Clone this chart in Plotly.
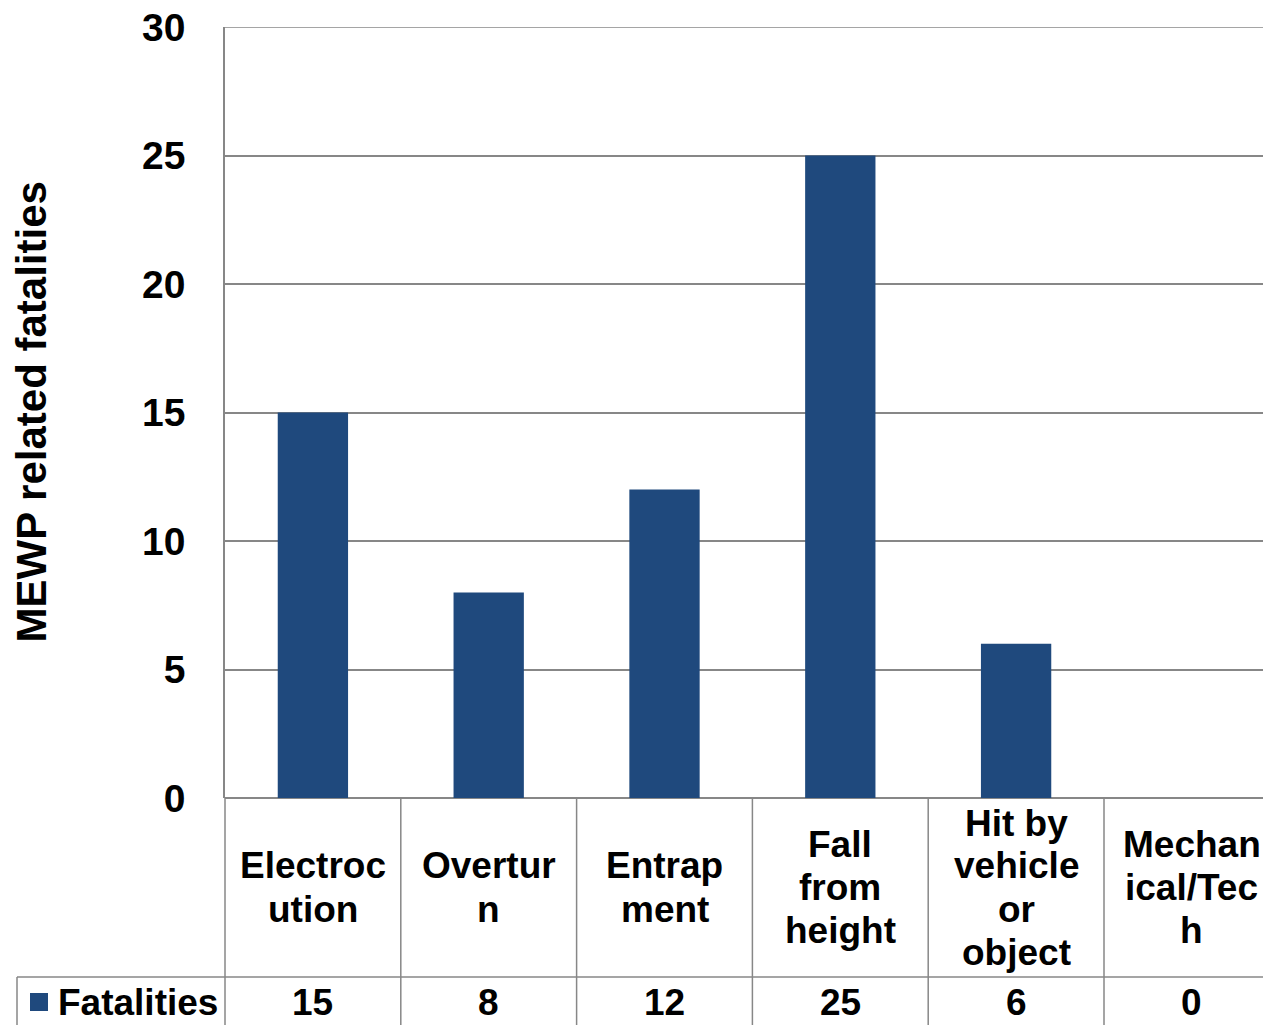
import plotly.graph_objects as go

# ---- data ----
categories = ["Electrocution", "Overturn", "Entrapment", "Fall from height",
              "Hit by vehicle or object", "Mechanical/Tech"]
label_lines = [["Electroc", "ution"], ["Overtur", "n"], ["Entrap", "ment"],
               ["Fall", "from", "height"], ["Hit by", "vehicle", "or", "object"],
               ["Mechan", "ical/Tec", "h"]]
values = [15, 8, 12, 25, 6, 0]
series_name = "Fatalities"
y_ticks = [0, 5, 10, 15, 20, 25, 30]
y_title = "MEWP related fatalities"

# ---- layout geometry (pixels) ----
W, H = 1263, 1025
L, T, B = 225, 27, 798
CAT_W = 175.8
ROW_SPLIT = 977
BAR_COLOR = "#1F497D"
LINE_COLOR = "#878787"
FONT = "Liberation Sans, Arial, sans-serif"

xmin = -0.5
xmax = xmin + (W - L) / CAT_W


def py(Y):
    return (B - Y) / (B - T)


def pxx(X):
    return (X - L) / (W - L)


def catx(v):
    return (v - xmin) / (xmax - xmin)


fig = go.Figure()
fig.add_trace(go.Bar(x=categories, y=values, name=series_name,
                     marker=dict(color=BAR_COLOR, line=dict(width=0)),
                     width=0.4, showlegend=False))

shapes = []
line = dict(color=LINE_COLOR, width=1.5)
# top gridline (max of axis)
shapes.append(dict(type="line", xref="paper", yref="y",
                   x0=0, x1=1, y0=y_ticks[-1], y1=y_ticks[-1], line=line))
# table vertical lines
for i in range(len(categories) + 1):
    xp = catx(i - 0.5)
    if xp <= 1.0:
        shapes.append(dict(type="line", xref="paper", yref="paper",
                           x0=xp, x1=xp, y0=0, y1=py(H + 5), line=line))
# horizontal separator between label row and value row
shapes.append(dict(type="line", xref="paper", yref="paper",
                   x0=pxx(17), x1=1, y0=py(ROW_SPLIT), y1=py(ROW_SPLIT), line=line))
# legend cell left border
shapes.append(dict(type="line", xref="paper", yref="paper",
                   x0=pxx(17), x1=pxx(17), y0=py(ROW_SPLIT), y1=py(H + 5), line=line))
# legend key
shapes.append(dict(type="rect", xref="paper", yref="paper",
                   x0=pxx(30), x1=pxx(48), y0=py(1011), y1=py(993),
                   fillcolor=BAR_COLOR, line=dict(width=0)))

annotations = []
font_txt = dict(family=FONT, size=37, color="black", weight="bold")
LINE_SP = 43
cell_center = (B + ROW_SPLIT) / 2
for i, lines in enumerate(label_lines):
    n = len(lines)
    for k, t in enumerate(lines):
        yc = cell_center + (k - (n - 1) / 2) * LINE_SP
        annotations.append(dict(text=t, x=catx(i), xref="paper", y=py(yc), yref="paper",
                                xanchor="center", yanchor="middle", showarrow=False,
                                font=font_txt))
for i, v in enumerate(values):
    annotations.append(dict(text=str(v), x=catx(i), xref="paper", y=py(1002), yref="paper",
                            xanchor="center", yanchor="middle", showarrow=False,
                            font=font_txt))
annotations.append(dict(text=series_name, x=pxx(56), xref="paper", y=py(1002), yref="paper",
                        xanchor="left", yanchor="middle", showarrow=False, font=font_txt))
annotations.append(dict(text=y_title, x=pxx(31), xref="paper", y=0.5, yref="paper",
                        xanchor="center", yanchor="middle", textangle=-90, showarrow=False,
                        font=dict(family=FONT, size=42, color="black", weight="bold")))

fig.update_layout(
    width=W, height=H,
    margin=dict(l=L, r=0, t=T, b=H - B, pad=0),
    paper_bgcolor="white", plot_bgcolor="white",
    shapes=shapes, annotations=annotations,
    xaxis=dict(range=[xmin, xmax], showticklabels=False, showgrid=False,
               zeroline=False, showline=False, ticks=""),
    yaxis=dict(range=[0, 30], tickvals=y_ticks, ticktext=[str(v) for v in y_ticks],
               showgrid=True, gridcolor=LINE_COLOR, gridwidth=1.5,
               zeroline=True, zerolinecolor=LINE_COLOR, zerolinewidth=1.5,
               showline=True, linecolor=LINE_COLOR, linewidth=1.5,
               ticks="", ticklabelstandoff=30,
               tickfont=dict(family=FONT, size=39, color="black", weight="bold")),
)

fig.write_html("out.html", config={"displayModeBar": False},
               post_script="document.body.style.margin='0';document.body.style.overflow='hidden';")
